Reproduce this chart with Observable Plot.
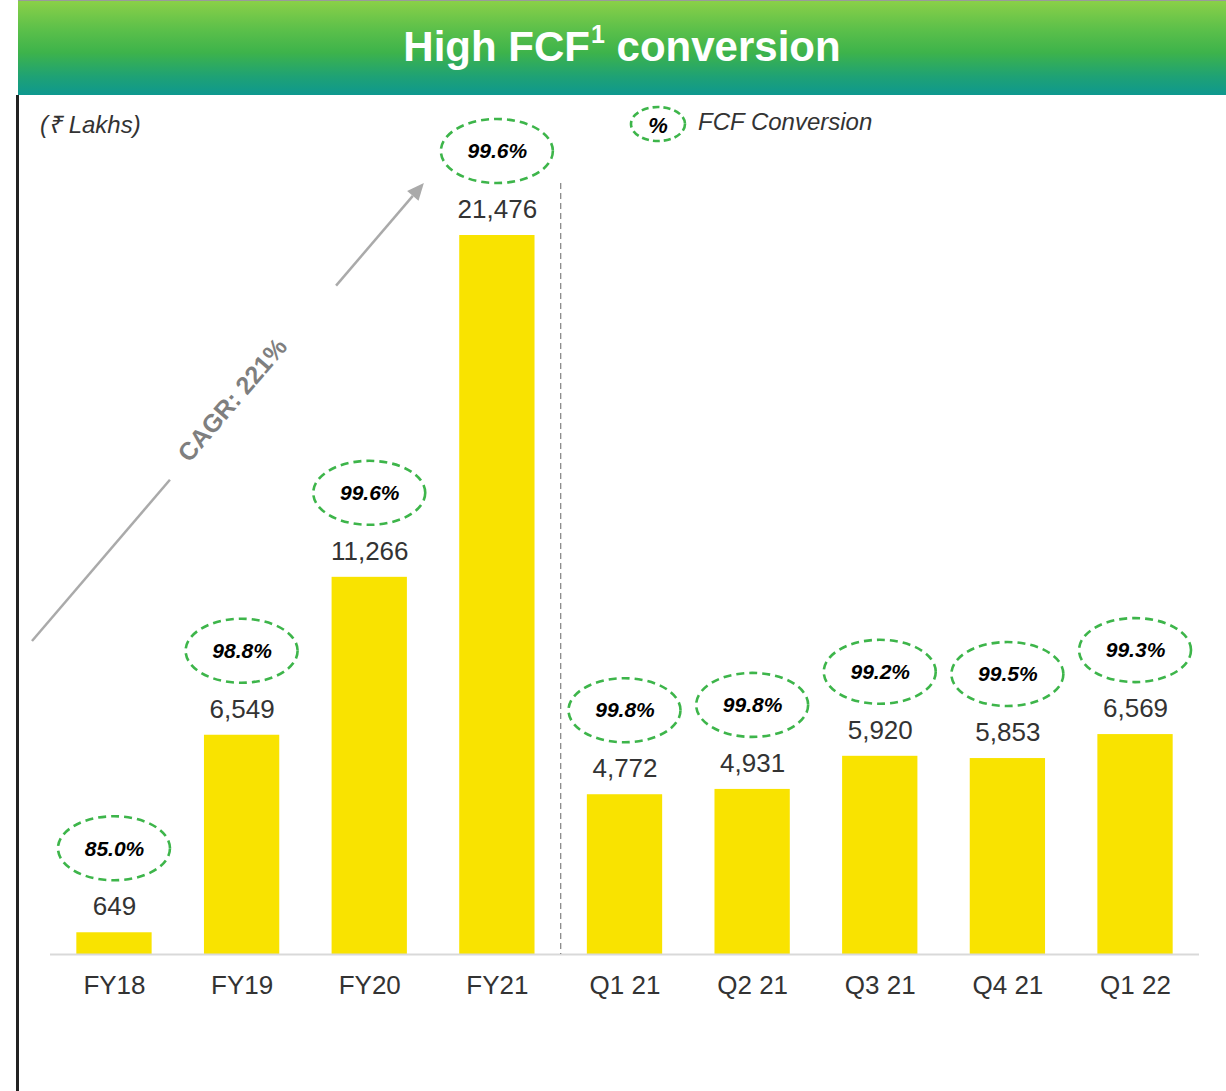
<!DOCTYPE html>
<html><head><meta charset="utf-8">
<script src="https://cdn.jsdelivr.net/npm/d3@7"></script>
<script src="https://cdn.jsdelivr.net/npm/@observablehq/plot@0.6"></script>
<style>
body{margin:0;background:#fff;font-family:"Liberation Sans",Arial,sans-serif;}
#wrap{position:relative;width:1226px;height:1091px;overflow:hidden;background:#fff}
#banner{position:absolute;left:18px;top:0;width:1208px;height:95px;
  background:linear-gradient(to bottom,#8ad048 0%,#5cc04a 30%,#3db34b 55%,#1fa274 80%,#0e988f 100%);
  border-top:1px solid #9a9a9a;box-sizing:border-box;color:#fff;font-weight:bold;font-size:42px;
  display:flex;align-items:center;justify-content:center;padding-bottom:2px}
#banner sup{font-size:25px;line-height:0;position:relative;top:-3px;vertical-align:super;margin-left:1px}
#leftline{position:absolute;left:16px;top:95px;width:3px;height:996px;background:#222}
#chart{position:absolute;left:0;top:95px}
#unit{position:absolute;left:40px;top:107px;font-style:italic;font-size:24px;color:#333}
#legend{position:absolute;left:628px;top:104px;width:300px;height:40px}
#legendText{position:absolute;left:698px;top:108px;font-style:italic;font-size:24px;color:#333}
</style></head>
<body>
<div id="wrap">
  <div id="banner"><span>High FCF<sup>1</sup> conversion</span></div>
  <div id="chart"></div>
  <div id="leftline"></div>
  <div id="unit">(₹ Lakhs)</div>
  <svg id="legend" width="70" height="40">
    <ellipse cx="30" cy="20" rx="27" ry="17" fill="none" stroke="#3db54a" stroke-width="2.6" stroke-dasharray="7,4"></ellipse>
    <text x="30" y="21" dy="0.36em" text-anchor="middle" font-family="Liberation Sans, Arial, sans-serif" font-size="22" font-weight="bold" font-style="italic" fill="#000">%</text>
  </svg>
  <div id="legendText">FCF Conversion</div>
</div>
<script>
const categories = ["FY18","FY19","FY20","FY21","Q1 21","Q2 21","Q3 21","Q4 21","Q1 22"];
const fcfValues = [649, 6549, 11266, 21476, 4772, 4931, 5920, 5853, 6569];
const conversionPct = [85.0, 98.8, 99.6, 99.6, 99.8, 99.8, 99.2, 99.5, 99.3];
const cagrLabel = "CAGR: 221%";

const data = categories.map((c, i) => ({cat: c, value: fcfValues[i], pct: conversionPct[i]}));
const fmt = d3.format(",");
const FONT = "Liberation Sans, Arial, sans-serif";

const plot = Plot.plot({
  width: 1226, height: 996,
  marginLeft: 24, marginRight: 1, marginTop: 55.5, marginBottom: 137,
  x: {domain: categories, padding: 0.41, round: false, axis: null},
  y: {domain: [0, 24000], axis: null},
  style: {fontFamily: FONT, background: "transparent", overflow: "visible"},
  marks: [
    Plot.barY(data, {x: "cat", y: "value", fill: "#f9e300"}),
    Plot.ruleY([0], {stroke: "#d9d9d9", strokeWidth: 2, insetLeft: 26, insetRight: 26}),
    Plot.text(data, {x: "cat", y: "value", text: d => fmt(d.value), dy: -26, fontSize: 26, fill: "#333"}),
    Plot.text(data, {x: "cat", y: "value", text: d => d.pct.toFixed(1) + "%", dy: -84, fontSize: 21, fontWeight: "bold", fontStyle: "italic", fill: "#000"}),
    Plot.text(categories, {x: d => d, frameAnchor: "bottom", dy: 39, fontSize: 26, fill: "#333"})
  ]
});

const xs = plot.scale("x"), ys = plot.scale("y");
const bw = xs.bandwidth, step = xs.step;
const cx = c => xs.apply(c) + bw / 2;
const svg = d3.select(plot);
const y0 = ys.apply(0);

// ellipses around conversion %
svg.append("g").selectAll("ellipse").data(data).join("ellipse")
  .attr("cx", d => cx(d.cat)).attr("cy", d => ys.apply(d.value) - 84)
  .attr("rx", 56).attr("ry", 32)
  .attr("fill", "none").attr("stroke", "#3db54a").attr("stroke-width", 2.6).attr("stroke-dasharray", "8,5");

// divider between annual and quarterly
const topY = y0 - 771;
svg.append("line")
  .attr("x1", cx("FY21") + step / 2).attr("x2", cx("FY21") + step / 2)
  .attr("y1", topY).attr("y2", y0)
  .attr("stroke", "#8a8a8a").attr("stroke-width", 1.3).attr("stroke-dasharray", "6,4");

// CAGR arrow
const ax0 = cx("FY18") - 82, ay0 = y0 - 313;
const ax1 = cx("FY21") - 73, ay1 = topY;
const dx = ax1 - ax0, dy = ay1 - ay0, len = Math.hypot(dx, dy);
const ux = dx / len, uy = dy / len;
const P = t => [ax0 + dx * t, ay0 + dy * t];
const ag = svg.append("g").attr("stroke", "#aaaaaa").attr("stroke-width", 2.5).attr("fill", "none");
const [s1x, s1y] = P(0.352);
ag.append("line").attr("x1", ax0).attr("y1", ay0).attr("x2", s1x).attr("y2", s1y);
const [s2x, s2y] = P(0.776);
const head = 17, hw = 7.5;
ag.append("line").attr("x1", s2x).attr("y1", s2y).attr("x2", ax1 - ux * head).attr("y2", ay1 - uy * head);
const bx = ax1 - ux * head, by = ay1 - uy * head;
svg.append("polygon")
  .attr("points", [[ax1, ay1], [bx - uy * hw, by + ux * hw], [bx + uy * hw, by - ux * hw]].map(p => p.join(",")).join(" "))
  .attr("fill", "#aaaaaa");
const angle = Math.atan2(dy, dx) * 180 / Math.PI;
const [tx, ty] = P(0.52);
svg.append("text")
  .attr("transform", `translate(${tx},${ty}) rotate(${angle})`)
  .attr("y", -4.7).attr("dy", "0.35em")
  .attr("text-anchor", "middle")
  .attr("font-family", FONT).attr("font-size", 25).attr("font-weight", "bold")
  .attr("fill", "#7f7f7f").text(cagrLabel);

document.getElementById("chart").appendChild(plot);
</script>
</body></html>
